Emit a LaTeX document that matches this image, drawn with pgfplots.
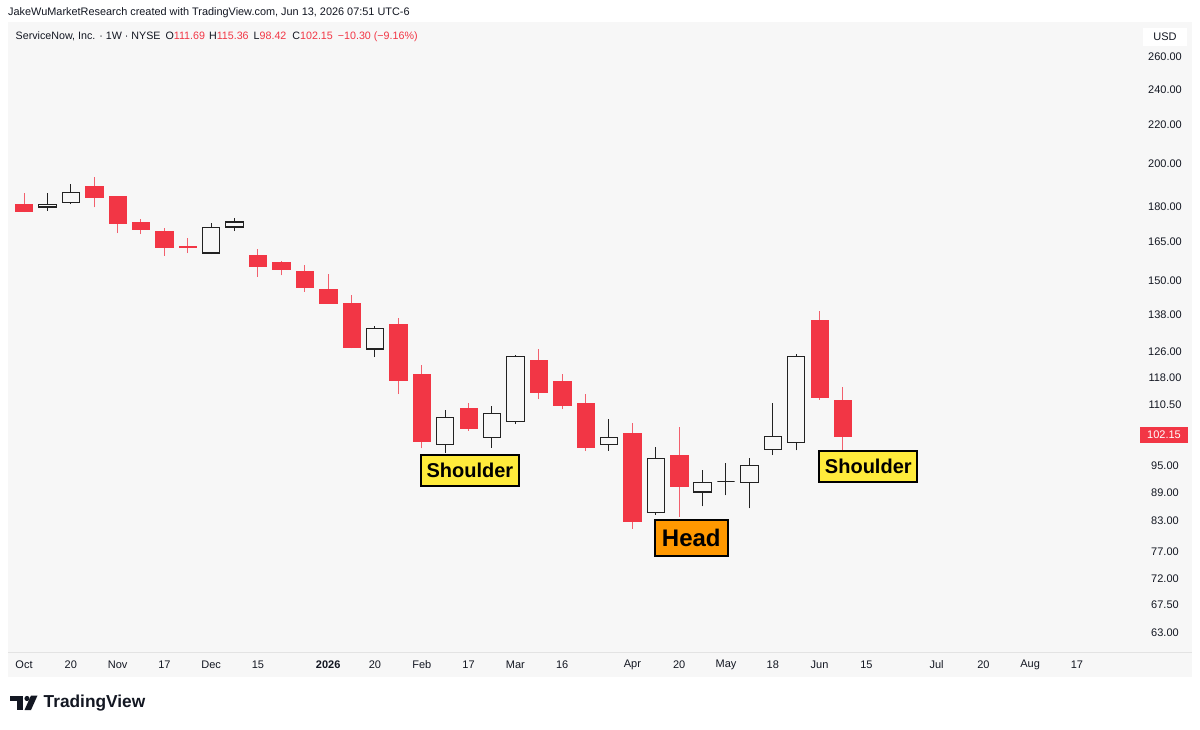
\documentclass[border=0pt]{standalone}
\usepackage{fontspec}
\setmainfont{Liberation Sans}
\usepackage{pgfplots}
\usepackage{pgfplotstable}
\pgfplotsset{compat=1.18}
\definecolor{tvred}{HTML}{F23645}
\definecolor{tvwick}{HTML}{F2606D}
\definecolor{tvtext}{HTML}{131722}
\definecolor{tvdark}{HTML}{222222}
\definecolor{tvbg}{HTML}{F7F7F7}
\definecolor{tvsep}{HTML}{E3E3E3}
\definecolor{shyellow}{HTML}{FFEB3B}
\definecolor{hdorange}{HTML}{FF9800}

\pgfplotstableread{
i O H L C
0 181.1 186.2 177.5 178.0
1 179.7 185.9 178.0 180.9
2 181.6 190.1 181.0 186.4
3 189.3 193.4 179.6 184.2
4 184.5 184.8 168.5 172.5
5 172.9 174.4 168.1 170.3
6 169.5 170.8 159.3 162.9
7 163.0 166.4 160.4 162.8
8 160.5 172.7 160.0 171.0
9 171.1 175.1 169.4 173.2
10 159.7 162.1 151.4 155.3
11 157.0 157.4 151.9 154.2
12 153.3 155.8 145.9 147.6
13 146.8 152.3 141.7 141.9
14 141.8 144.8 126.9 127.4
15 126.7 134.1 124.2 133.2
16 134.7 136.7 113.4 117.2
17 119.0 121.8 99.2 100.9
18 100.1 109.1 98.2 107.1
19 109.6 110.9 103.6 104.3
20 102.0 110.2 99.4 108.1
21 106.1 124.7 105.3 124.5
22 123.1 126.7 112.0 113.8
23 116.9 119.2 109.3 110.4
24 110.9 113.4 98.6 99.5
25 100.1 106.7 98.6 102.0
26 103.0 105.7 81.4 83.0
27 84.8 99.5 84.3 96.7
28 97.5 104.5 83.8 90.3
29 89.1 94.1 86.0 91.2
30 91.4 95.6 88.4 91.4
31 91.2 96.8 85.6 95.1
32 98.9 110.9 97.6 102.2
33 100.7 125.0 98.7 124.5
34 135.9 139.2 111.8 112.6
35 111.69 115.36 98.42 102.15
}\ohlc

\begin{document}
\begin{tikzpicture}
\useasboundingbox (0pt,0pt) rectangle (1200pt,729pt);
\fill[white] (0pt,0pt) rectangle (1200pt,729pt);
\fill[tvbg] (8pt,52pt) rectangle (1192pt,707pt);
\draw[tvsep, line width=1pt] (8pt,76.5pt) -- (1192pt,76.5pt);
\node[anchor=west, inner sep=0, text=tvtext, font=\fontsize{10.9}{13}\selectfont] at (8pt,716.5pt)
  {JakeWuMarketResearch created with TradingView.com, Jun 13, 2026 07:51 UTC-6};
\node[anchor=west, inner sep=0, text=tvtext, font=\fontsize{10.7}{13}\selectfont] at (15.5pt,692pt)
  {ServiceNow, Inc. · 1W · NYSE\hspace{5pt}O\textcolor{tvred}{111.69}\hspace{4pt}H\textcolor{tvred}{115.36}\hspace{5pt}L\textcolor{tvred}{98.42}\hspace{6pt}C\textcolor{tvred}{102.15}\hspace{5pt}\textcolor{tvred}{−10.30 (−9.16\%)}};

\begin{axis}[
  at={(8pt,77pt)}, anchor=south west, scale only axis,
  width=1127pt, height=630pt,
  xmin=-0.6838, xmax=47.479,
  ymode=log, ymin=60.11, ymax=283.39,
  axis line style={draw=none},
  major tick length=0pt, minor tick length=0pt,
  /pgf/number format/assume math mode=true,
  xtick={0,2,4,6,8,10,13,15,17,19,21,23,26,28,30,32,34,36,39,41,43,45},
  xticklabels={Oct,20,Nov,17,Dec,15,\textbf{2026},20,Feb,17,Mar,16,Apr,20,May,18,Jun,15,Jul,20,Aug,17},
  xticklabel style={anchor=center, yshift=-12.5pt, text=tvtext, font=\fontsize{11}{13}\selectfont},
  ytick={63,67.5,72,77,83,89,95,110.5,118,126,138,150,165,180,200,220,240,260},
  yticklabels={63.00,67.50,72.00,77.00,83.00,89.00,95.00,110.50,118.00,126.00,138.00,150.00,165.00,180.00,200.00,220.00,240.00,260.00},
  yticklabel pos=right,
  yticklabel style={anchor=center, xshift=30pt, text=tvtext, font=\fontsize{11}{13}\selectfont},
  dnwick/.style={color=tvwick, line width=1pt, mark=none},
  dnbody/.style={fill=tvred, draw=tvred, line width=0.5pt, mark=none},
  upwick/.style={color=tvdark, line width=1pt, mark=none},
  upbody/.style={fill=tvbg, draw=tvdark, line width=1.15pt, mark=none},
]
\pgfplotsforeachungrouped \k in {0,...,35}{%
  \pgfplotstablegetelem{\k}{O}\of\ohlc \let\cO\pgfplotsretval
  \pgfplotstablegetelem{\k}{H}\of\ohlc \let\cH\pgfplotsretval
  \pgfplotstablegetelem{\k}{L}\of\ohlc \let\cL\pgfplotsretval
  \pgfplotstablegetelem{\k}{C}\of\ohlc \let\cC\pgfplotsretval
  \pgfmathsetmacro\xa{\k-0.372}%
  \pgfmathsetmacro\xb{\k+0.372}%
  \ifdim\cC pt<\cO pt \def\ws{dnwick}\def\bs{dnbody}\else\def\ws{upwick}\def\bs{upbody}\fi
  \edef\temp{%
    \noexpand\addplot[\ws] coordinates {(\k,\cL) (\k,\cH)};
    \noexpand\addplot[\bs] coordinates {(\xa,\cO) (\xb,\cO) (\xb,\cC) (\xa,\cC)} -- cycle;
  }\temp
}
\end{axis}

% price labels
\node[fill=white, text=tvtext, minimum width=44pt, minimum height=18pt, inner sep=0, font=\fontsize{11}{13}\selectfont] at (1165pt,692pt) {USD};
\node[fill=tvred, text=white, minimum width=48pt, minimum height=16pt, inner sep=0, font=\fontsize{11}{13}\selectfont] at (1164pt,294pt) {102.15};

% annotations
\node[draw=black, line width=1.8pt, fill=shyellow, minimum width=98pt, minimum height=31pt, inner sep=0, font=\bfseries\fontsize{20}{22}\selectfont] at (469.9pt,258.7pt) {Shoulder};
\node[draw=black, line width=1.8pt, fill=hdorange, minimum width=72.7pt, minimum height=36pt, inner sep=0, font=\bfseries\fontsize{24}{26}\selectfont] at (691.3pt,191pt) {Head};
\node[draw=black, line width=1.8pt, fill=shyellow, minimum width=98pt, minimum height=31pt, inner sep=0, font=\bfseries\fontsize{20}{22}\selectfont] at (868.3pt,262.3pt) {Shoulder};

% TradingView logo
\fill[tvtext] (10pt,28pt) rectangle (23pt,33.5pt);
\fill[tvtext] (17pt,19pt) rectangle (23pt,33.5pt);
\fill[tvtext] (27pt,30.5pt) circle (2.6pt);
\fill[tvtext] (31pt,33.5pt) -- (37.5pt,33.5pt) -- (31pt,19pt) -- (24.5pt,19pt) -- cycle;
\node[anchor=west, inner sep=0, text=tvtext, font=\bfseries\fontsize{17.3}{20}\selectfont] at (43.5pt,26pt) {TradingView};
\end{tikzpicture}
\end{document}
